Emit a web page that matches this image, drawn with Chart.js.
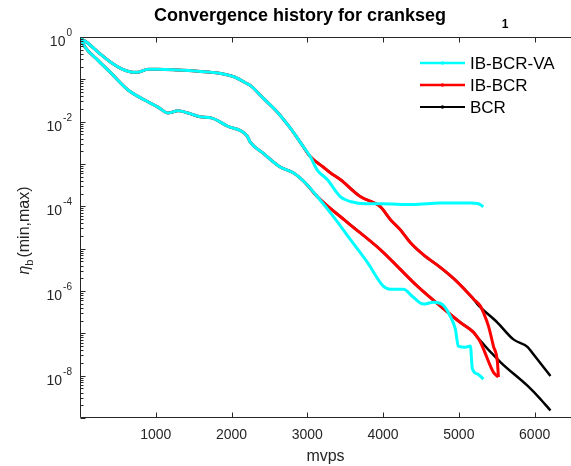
<!DOCTYPE html>
<html>
<head>
<meta charset="utf-8">
<script src="https://cdn.jsdelivr.net/npm/chart.js@4.4.1/dist/chart.umd.min.js"></script>
<style>
  html, body { margin: 0; padding: 0; background: #fff; }
  canvas { display: block; }
</style>
</head>
<body>
<canvas id="conv" width="571" height="466"></canvas>
<script>
// shared start of every run (max and min of eta_b)
const mvpsHeadMax = [0, 53, 106, 238, 410, 542, 700, 766, 898, 1030, 1295, 1559, 1823, 2048, 2193, 2246, 2417, 2602, 2774, 2933, 3038];
const etaHeadMax = [0.93, 0.83, 0.71, 0.44, 0.25, 0.18, 0.148, 0.148, 0.174, 0.174, 0.166, 0.155, 0.141, 0.112, 0.081, 0.072, 0.036, 0.017, 7.1e-3, 2.8e-3, 1.5e-3];
const mvpsHeadMin = [0, 66, 238, 410, 634, 859, 1030, 1162, 1295, 1427, 1585, 1731, 1942, 2206, 2246, 2417, 2642, 2814, 2972, 3131];
const etaHeadMin = [1.0, 0.58, 0.28, 0.14, 0.056, 0.032, 0.022, 0.016, 0.018, 0.016, 0.013, 0.0123, 7.9e-3, 4.6e-3, 3.3e-3, 1.8e-3, 8.5e-4, 6.2e-4, 3.6e-4, 1.7e-4];

// IB-BCR-VA
const mvpsVaMax = [3131, 3263, 3435, 3500, 3567, 3765, 3963, 4399, 4756, 5152, 5258, 5324];
const etaVaMax = [7.2e-4, 4.3e-4, 1.7e-4, 1.45e-4, 1.3e-4, 1.15e-4, 1.15e-4, 1.1e-4, 1.2e-4, 1.2e-4, 1.15e-4, 9.8e-5];
const mvpsVaMin = [3342, 3567, 3791, 4003, 4095, 4267, 4399, 4531, 4663, 4795, 4888, 4954, 4993, 5086, 5152, 5178, 5244, 5324];
const etaVaMin = [5.8e-5, 1.66e-5, 4.8e-6, 1.3e-6, 1.1e-6, 1.1e-6, 7.1e-7, 4.9e-7, 5.4e-7, 4.6e-7, 2.5e-7, 1.26e-7, 5.0e-8, 4.7e-8, 5.0e-8, 1.45e-8, 1.1e-8, 8.3e-9];

// IB-BCR (BCR follows the same path up to ~5200 mvps)
const mvpsIbMax = [3210, 3303, 3435, 3699, 3963, 4095, 4227, 4359, 4531, 4756, 4940, 5112, 5192];
const etaIbMax = [8.5e-4, 6.2e-4, 4.3e-4, 1.7e-4, 9.8e-5, 4.9e-5, 2.8e-5, 1.4e-5, 7.2e-6, 3.6e-6, 1.9e-6, 9.3e-7, 6.5e-7];
const mvpsIbMin = [3527, 3963, 4452, 4756, 5020, 5192, 5244];
const etaIbMin = [4.2e-5, 9.5e-6, 1.3e-6, 4.4e-7, 1.8e-7, 1.07e-7, 8.1e-8];
const mvpsIbMaxEnd = [5284, 5324, 5390, 5456, 5509, 5522];
const etaIbMaxEnd = [4.4e-7, 3.1e-7, 1.5e-7, 5.0e-8, 2.1e-8, 9.3e-9];
const mvpsIbMinEnd = [5284, 5324, 5456, 5522];
const etaIbMinEnd = [6.2e-8, 4.3e-8, 1.2e-8, 9.3e-9];

// BCR
const mvpsBcrMaxEnd = [5244, 5509, 5720, 5905, 5984, 6209];
const etaBcrMaxEnd = [4.9e-7, 1.8e-7, 7.2e-8, 4.8e-8, 3.2e-8, 9.8e-9];
const mvpsBcrMinEnd = [5548, 5905, 6077, 6209];
const etaBcrMinEnd = [2.1e-8, 5.8e-9, 2.8e-9, 1.5e-9];

const xTicks = [1000, 2000, 3000, 4000, 5000, 6000];
const yTickExps = [0, -2, -4, -6, -8];
const legendNames = ["IB-BCR-VA", "IB-BCR", "BCR"];
const lineColors = ["#00ffff", "#ff0000", "#000000"];

const AXIS = "#262626";
const FONT = '"Liberation Sans", Arial, Helvetica, sans-serif';

function pts(xs, ys) {
  return xs.map((x, i) => ({ x: x, y: ys[i] }));
}

function series(color, width, parts) {
  let data = [];
  parts.forEach(p => { data = data.concat(pts(p[0], p[1])); });
  return {
    data: data,
    borderColor: color,
    borderWidth: width,
    pointRadius: 0,
    fill: false,
    cubicInterpolationMode: "monotone",
  };
}

const datasets = [
  series(lineColors[0], 3, [[mvpsHeadMax, etaHeadMax], [mvpsVaMax, etaVaMax]]),
  series(lineColors[0], 3, [[mvpsHeadMin, etaHeadMin], [mvpsVaMin, etaVaMin]]),
  series(lineColors[1], 3, [[mvpsHeadMax, etaHeadMax], [mvpsIbMax, etaIbMax], [mvpsIbMaxEnd, etaIbMaxEnd]]),
  series(lineColors[1], 3, [[mvpsHeadMin, etaHeadMin], [mvpsIbMin, etaIbMin], [mvpsIbMinEnd, etaIbMinEnd]]),
  series(lineColors[2], 2.5, [[mvpsHeadMax, etaHeadMax], [mvpsIbMax, etaIbMax], [mvpsBcrMaxEnd, etaBcrMaxEnd]]),
  series(lineColors[2], 2.5, [[mvpsHeadMin, etaHeadMin], [mvpsIbMin, etaIbMin], [mvpsBcrMinEnd, etaBcrMinEnd]]),
];

// axes, ticks, labels and legend in the matlab look
const decorations = {
  id: "decorations",
  afterDatasetsDraw(chart) {
    const ctx = chart.ctx;
    const a = chart.chartArea;
    const xs = chart.scales.x;
    const ys = chart.scales.y;
    ctx.save();

    ctx.strokeStyle = AXIS;
    ctx.lineWidth = 1;
    const L = Math.round(a.left) + 0.5;
    const T = Math.round(a.top) + 0.5;
    const B = Math.round(a.bottom) - 0.5;
    ctx.beginPath();
    ctx.moveTo(L, T); ctx.lineTo(a.right, T);
    ctx.moveTo(L, B); ctx.lineTo(a.right, B);
    ctx.moveTo(L, T); ctx.lineTo(L, B);

    xTicks.forEach(v => {
      const px = Math.round(xs.getPixelForValue(v)) + 0.5;
      ctx.moveTo(px, B); ctx.lineTo(px, B - 5);
      ctx.moveTo(px, T); ctx.lineTo(px, T + 5);
    });

    for (let e = -9; e <= 0; e++) {
      for (let m = 1; m <= 9; m++) {
        const v = m * Math.pow(10, e);
        if (v > 1) break;
        const py = Math.round(ys.getPixelForValue(v)) + 0.5;
        const len = m === 1 ? 5 : 3;
        ctx.moveTo(L, py); ctx.lineTo(L + len, py);
      }
    }
    ctx.stroke();

    ctx.fillStyle = AXIS;
    ctx.font = "14px " + FONT;
    ctx.textAlign = "center";
    ctx.textBaseline = "alphabetic";
    xTicks.forEach(v => {
      ctx.fillText(String(v), xs.getPixelForValue(v), 439);
    });

    // 10^n labels on the log axis
    ctx.textAlign = "left";
    yTickExps.forEach(e => {
      const py = ys.getPixelForValue(Math.pow(10, e));
      ctx.font = "14px " + FONT;
      const w10 = ctx.measureText("10").width;
      ctx.font = "10px " + FONT;
      const wE = ctx.measureText(String(e)).width;
      const x0 = 72 - wE - w10 - 1;
      ctx.font = "14px " + FONT;
      ctx.fillText("10", x0, py + 9);
      ctx.font = "10px " + FONT;
      ctx.fillText(String(e), x0 + w10 + 1, py - 1);
    });

    ctx.font = "16px " + FONT;
    ctx.textAlign = "center";
    ctx.fillText("mvps", (a.left + a.right) / 2, 461);

    // y label: eta_b (min,max), rotated
    ctx.save();
    ctx.translate(29, (a.top + a.bottom) / 2 + 3);
    ctx.rotate(-Math.PI / 2);
    ctx.textAlign = "left";
    ctx.font = "italic 16px " + FONT;
    const wEta = ctx.measureText("\u03b7").width;
    ctx.font = "11px " + FONT;
    const wSub = ctx.measureText("b").width;
    ctx.font = "16px " + FONT;
    const wRest = ctx.measureText("(min,max)").width;
    const total = wEta + wSub + 2 + wRest;
    let cx = -total / 2;
    ctx.font = "italic 16px " + FONT;
    ctx.fillText("\u03b7", cx, 0);
    cx += wEta;
    ctx.font = "11px " + FONT;
    ctx.fillText("b", cx, 4);
    cx += wSub + 2;
    ctx.font = "16px " + FONT;
    ctx.fillText("(min,max)", cx, 0);
    ctx.restore();

    // title
    ctx.fillStyle = "#000";
    ctx.textAlign = "center";
    ctx.font = "bold 18px " + FONT;
    ctx.fillText("Convergence history for crankseg", 300, 21);
    ctx.font = "bold 12px " + FONT;
    ctx.fillText("1", 505, 28);

    // legend
    ctx.textAlign = "left";
    ctx.textBaseline = "middle";
    ctx.font = "17px " + FONT;
    legendNames.forEach((name, i) => {
      const y = 63 + i * 22;
      ctx.strokeStyle = lineColors[i];
      ctx.lineWidth = i === 2 ? 2 : 2.5;
      ctx.beginPath();
      ctx.moveTo(420, y); ctx.lineTo(465, y);
      ctx.stroke();
      ctx.fillStyle = lineColors[i];
      ctx.beginPath();
      ctx.arc(442.5, y, 1.8, 0, Math.PI * 2);
      ctx.fill();
      ctx.fillStyle = "#000";
      ctx.fillText(name, 470, y + 1);
    });

    ctx.restore();
  },
};

new Chart(document.getElementById("conv"), {
  type: "line",
  data: { datasets: datasets },
  options: {
    responsive: false,
    animation: false,
    devicePixelRatio: 1,
    parsing: false,
    layout: { padding: { left: 80, top: 37, right: 0, bottom: 48 } },
    plugins: { legend: { display: false }, tooltip: { enabled: false } },
    scales: {
      x: { type: "linear", min: 0, max: 6480, display: false },
      y: { type: "logarithmic", min: 1e-9, max: 1, display: false },
    },
  },
  plugins: [decorations],
});
</script>
</body>
</html>
